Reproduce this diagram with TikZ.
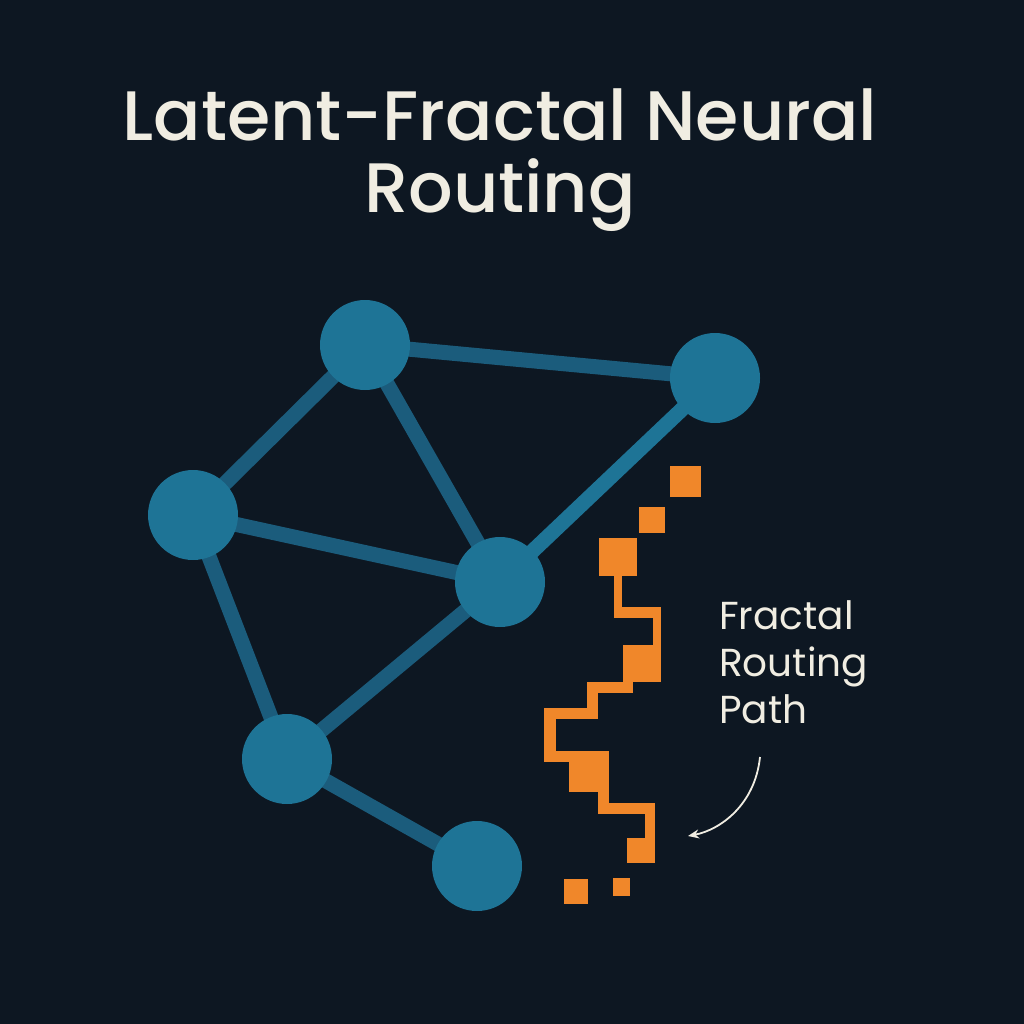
\documentclass[tikz,border=0pt]{standalone}
\usepackage{fontspec}
\setmainfont{Poppins}[BoldFont={Poppins Medium}]
\usetikzlibrary{arrows.meta}
\definecolor{bg}{HTML}{0D1722}
\definecolor{nodec}{HTML}{1E7496}
\definecolor{edgec}{HTML}{1B5C7C}
\definecolor{org}{HTML}{F0872A}
\definecolor{txt}{HTML}{F0EDE2}
\tikzset{ed/.style={edgec,line width=15pt},
ob/.style={fill=org}}
\begin{document}
\begin{tikzpicture}[x=1pt,y=-1pt]
\fill[bg] (0,0) rectangle (1024,1024);
\node[txt,font=\bfseries\fontsize{70}{72}\selectfont,align=center] (title) at (500,160) {Latent-Fractal Neural\\Routing};
\foreach \n/\p in {A/{365,345},B/{715,378},C/{193,515},D/{500,582},E/{287,759},F/{477,866}}
  \coordinate (\n) at (\p);
\draw[ed] (A)--(B) (A)--(C) (A)--(D) (C)--(D) (C)--(E) (D)--(E) (E)--(F);
\draw[nodec,line width=15pt] (B)--(D);
\foreach \n in {A,B,C,D,E,F}
  \fill[nodec] (\n) circle (45);
% orange path
\fill[ob] (670,466) rectangle (701,497);
\fill[ob] (639,507) rectangle (665,533);
\fill[ob] (599,538) rectangle (637,576);
\fill[ob] (614,576) rectangle (622,618);
\fill[ob] (614,607) rectangle (661,618);
\fill[ob] (653,607) rectangle (661,682);
\fill[ob] (623,645) rectangle (661,682);
\fill[ob] (587,682) rectangle (633,693);
\fill[ob] (587,682) rectangle (598,719);
\fill[ob] (544,708) rectangle (598,719);
\fill[ob] (544,708) rectangle (556,762);
\fill[ob] (544,751) rectangle (609,762);
\fill[ob] (569,751) rectangle (609,792);
\fill[ob] (598,792) rectangle (609,814);
\fill[ob] (598,803) rectangle (655,814);
\fill[ob] (645,803) rectangle (655,863);
\fill[ob] (627,838) rectangle (655,863);
\fill[ob] (564,879) rectangle (588,904);
\fill[ob] (613,878) rectangle (630,896);
\node[txt,font=\fontsize{39}{47}\selectfont,align=left,anchor=north west,inner sep=0pt] (lab) at (719,600) {Fractal\\Routing\\Path};
\coordinate (s) at (760,757);
\coordinate (t) at (688,836);
\draw[txt,line width=1.8pt,-{Stealth[length=11pt,width=9pt]}] (s) .. controls (755,805) and (720,830) .. (t);
\end{tikzpicture}
\end{document}
